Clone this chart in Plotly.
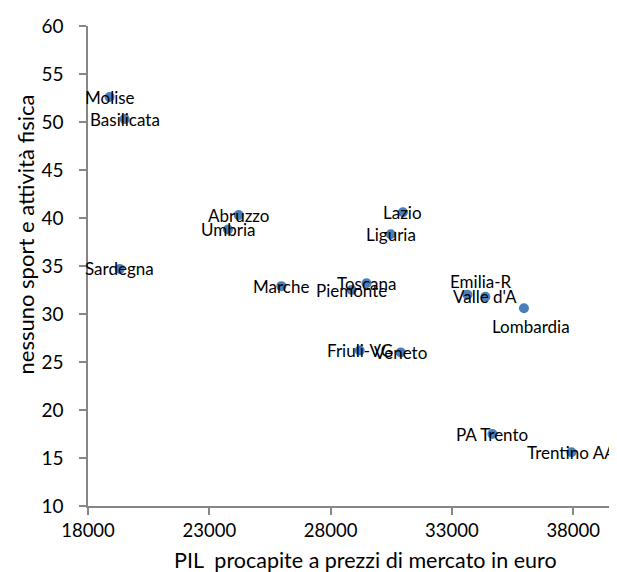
import plotly.graph_objects as go

regioni = ["Molise", "Basilicata", "Sardegna", "Abruzzo", "Umbria", "Marche",
           "Piemonte", "Toscana", "Lazio", "Liguria", "Friuli-VG", "Veneto",
           "Emilia-R", "Valle d'A", "Lombardia", "PA Trento", "Trentino AA"]
pil = [18890, 19510, 19310, 24210, 23770, 25970,
       28870, 29480, 30980, 30480, 29200, 30890,
       33640, 34380, 35970, 34670, 37930]
nessuno_sport = [52.6, 50.3, 34.7, 40.3, 38.8, 32.9,
                 32.5, 33.2, 40.6, 38.3, 26.2, 26.0,
                 32.0, 31.8, 30.6, 17.5, 15.6]
# pixel offsets of labels relative to their point (most are centred)
label_dx = [0, 0, 0, 0, 0, 0, 0, 0, 0, 0, 0, 0, 13, 0, 7, 0, 0]
label_dy = [0, 0, 0, 0, 0, 0, 0, 0, 0, 0, 0, 0, 13, 0, -18, 0, 0]

x_ticks = [18000, 23000, 28000, 33000, 38000]
y_ticks = [10, 15, 20, 25, 30, 35, 40, 45, 50, 55, 60]

x_title = "PIL\u00a0 procapite a prezzi di mercato in euro"
y_title = "nessuno sport e attività fisica"

FONT = "Lato"
AX = "#868686"

# the page body adds an 8px offset, so the figure is 8px smaller than the window
W, H = 609, 564
L, T, B = 80, 18, 66
PW, PH = W - L, H - T - B

fig = go.Figure()
fig.add_trace(go.Scatter(
    x=pil, y=nessuno_sport, mode="markers",
    marker=dict(size=10, color="#4A7EBB"),
    hoverinfo="skip", showlegend=False,
))

for name, xv, yv, dx, dy in zip(regioni, pil, nessuno_sport, label_dx, label_dy):
    fig.add_annotation(x=xv, y=yv, text=name, showarrow=False,
                       xshift=dx, yshift=dy,
                       font=dict(family=FONT, size=17, color="#000000"))

# axis titles (placed as in the reference)
fig.add_annotation(xref="paper", yref="paper", x=(365 - 88) / PW, y=-(559.5 - 505.5) / PH,
                   text=x_title, showarrow=False, xanchor="center", yanchor="middle",
                   font=dict(family=FONT, size=21.5, color="#000000"))
fig.add_annotation(xref="paper", yref="paper", x=-(88 - 25) / PW, y=(505.5 - 234) / PH,
                   text=y_title, showarrow=False, textangle=-90,
                   xanchor="center", yanchor="middle",
                   font=dict(family=FONT, size=22, color="#000000"))

fig.update_layout(
    width=W, height=H,
    margin=dict(l=L, r=0, t=T, b=B),
    paper_bgcolor="white", plot_bgcolor="white",
    font=dict(family=FONT, color="#000000"),
    xaxis=dict(
        range=[18000, 39805], tickvals=x_ticks, ticktext=[str(v) for v in x_ticks],
        showgrid=False, zeroline=False, showline=True, linecolor=AX, linewidth=1.5,
        ticks="outside", ticklen=7, tickcolor=AX, tickwidth=1.5,
        tickfont=dict(family=FONT, size=18.5), automargin=False,
    ),
    yaxis=dict(
        range=[10, 60], tickvals=y_ticks,
        showgrid=False, zeroline=False, showline=True, linecolor=AX, linewidth=1.5,
        ticks="outside", ticklen=7, tickcolor=AX, tickwidth=1.5,
        tickfont=dict(family=FONT, size=19), ticklabelstandoff=12, automargin=False,
    ),
)

fig.write_html("out.html")
